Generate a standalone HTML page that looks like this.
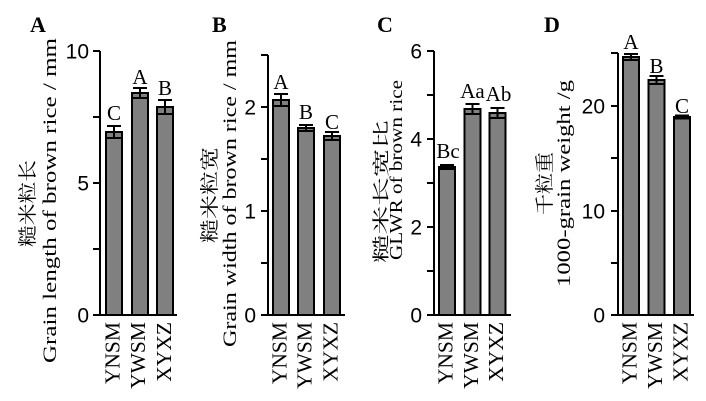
<!DOCTYPE html>
<html><head><meta charset="utf-8"><style>
html,body{margin:0;padding:0;background:#fff;}
svg{display:block;}
.t{font-family:"Liberation Serif",serif;fill:#000;}
.c{font-family:"Liberation Serif","Noto Serif CJK SC",serif;fill:#000;}
.n{font-family:"Liberation Sans",sans-serif;font-size:21px;fill:#000;text-anchor:end;}
.p{font-family:"Liberation Serif",serif;font-weight:bold;font-size:22px;fill:#000;}
.s{font-family:"Liberation Serif",serif;font-size:21px;fill:#000;text-anchor:middle;}
.x{font-family:"Liberation Serif",serif;font-size:21.5px;fill:#000;text-anchor:end;}
.bar{fill:#808080;stroke:#000;stroke-width:2;}
.ax{stroke:#000;stroke-width:2;fill:none;}
</style></head><body>
<svg width="706" height="401" viewBox="0 0 706 401" xmlns="http://www.w3.org/2000/svg">
<rect width="706" height="401" fill="#fff"/>

<!-- Panel letters -->
<text class="p" x="30" y="32">A</text>
<text class="p" x="212" y="32">B</text>
<text class="p" x="377" y="32">C</text>
<text class="p" x="544" y="32">D</text>

<!-- ===== Panel A ===== -->
<text class="c" font-size="19" text-anchor="middle" transform="translate(34,203.5) rotate(-90)" textLength="87" lengthAdjust="spacingAndGlyphs">糙米粒长</text>
<text class="t" font-size="19" text-anchor="middle" transform="translate(56,200.5) rotate(-90)" textLength="325" lengthAdjust="spacingAndGlyphs">Grain length of brown rice / mm</text>
<path class="ax" d="M100 51 V315 M93 315 H177 M93 51 H100 M93 117 H100 M93 183 H100 M93 249 H100"/>
<text class="n" x="89" y="58.5">10</text>
<text class="n" x="89" y="190.5">5</text>
<text class="n" x="89" y="322.5">0</text>
<rect class="bar" x="106" y="132" width="16" height="183"/>
<rect class="bar" x="132" y="93" width="16" height="222"/>
<rect class="bar" x="157" y="107" width="16" height="208"/>
<path class="ax" d="M114 126 V138 M107 126 H121 M107 138 H121"/>
<path class="ax" d="M140 88 V98 M133 88 H147 M133 98 H147"/>
<path class="ax" d="M165 100 V114 M158 100 H172 M158 114 H172"/>
<text class="s" x="114" y="120">C</text>
<text class="s" x="140" y="84">A</text>
<text class="s" x="165" y="95">B</text>
<text class="x" transform="translate(119.5,322) rotate(-90)">YNSM</text>
<text class="x" transform="translate(145,322) rotate(-90)">YWSM</text>
<text class="x" transform="translate(171,322) rotate(-90)">XYXZ</text>

<!-- ===== Panel B ===== -->
<text class="c" font-size="19" text-anchor="middle" transform="translate(216,195) rotate(-90)" textLength="96" lengthAdjust="spacingAndGlyphs">糙米粒宽</text>
<text class="t" font-size="19" text-anchor="middle" transform="translate(236,193.5) rotate(-90)" textLength="307" lengthAdjust="spacingAndGlyphs">Grain width of brown rice / mm</text>
<path class="ax" d="M268 55 V315 M261 315 H345 M261 55 H268 M261 107 H268 M261 159 H268 M261 211 H268 M261 263 H268"/>
<text class="n" x="256" y="114.5">2</text>
<text class="n" x="256" y="218.5">1</text>
<text class="n" x="256" y="322.5">0</text>
<rect class="bar" x="273" y="100" width="16" height="215"/>
<rect class="bar" x="298" y="128" width="16" height="187"/>
<rect class="bar" x="324" y="136" width="16" height="179"/>
<path class="ax" d="M281 94 V106 M274 94 H288 M274 106 H288"/>
<path class="ax" d="M306 125 V131 M299 125 H313 M299 131 H313"/>
<path class="ax" d="M332 132 V140 M325 132 H339 M325 140 H339"/>
<text class="s" x="281" y="89">A</text>
<text class="s" x="306" y="119">B</text>
<text class="s" x="332" y="129">C</text>
<text class="x" transform="translate(286.5,322) rotate(-90)">YNSM</text>
<text class="x" transform="translate(311.5,322) rotate(-90)">YWSM</text>
<text class="x" transform="translate(337.5,322) rotate(-90)">XYXZ</text>

<!-- ===== Panel C ===== -->
<text class="c" font-size="17" text-anchor="middle" transform="translate(387,191.5) rotate(-90)" textLength="143" lengthAdjust="spacingAndGlyphs">糙米长宽比</text>
<text class="t" font-size="18" text-anchor="middle" transform="translate(402,170) rotate(-90)" textLength="180" lengthAdjust="spacingAndGlyphs">GLWR of brown rice</text>
<path class="ax" d="M434 51 V315 M427 315 H511 M427 51 H434 M427 95 H434 M427 139 H434 M427 183 H434 M427 227 H434 M427 271 H434"/>
<text class="n" x="422" y="58.5">6</text>
<text class="n" x="422" y="146.5">4</text>
<text class="n" x="422" y="234.5">2</text>
<text class="n" x="422" y="322.5">0</text>
<rect class="bar" x="439" y="167" width="16" height="148"/>
<rect class="bar" x="464.5" y="109" width="16" height="206"/>
<rect class="bar" x="489.5" y="113" width="16" height="202"/>
<path class="ax" d="M447 165 V169 M440 165 H454 M440 169 H454"/>
<path class="ax" d="M472.5 104 V114 M465.5 104 H479.5 M465.5 114 H479.5"/>
<path class="ax" d="M497.5 108 V118 M490.5 108 H504.5 M490.5 118 H504.5"/>
<text class="s" x="448" y="158">Bc</text>
<text class="s" x="472.5" y="98">Aa</text>
<text class="s" x="498.5" y="101">Ab</text>
<text class="x" transform="translate(452.5,322) rotate(-90)">YNSM</text>
<text class="x" transform="translate(478,322) rotate(-90)">YWSM</text>
<text class="x" transform="translate(503,322) rotate(-90)">XYXZ</text>

<!-- ===== Panel D ===== -->
<text class="c" font-size="19" text-anchor="middle" transform="translate(551,183.5) rotate(-90)" textLength="63" lengthAdjust="spacingAndGlyphs">千粒重</text>
<text class="t" font-size="19" text-anchor="middle" transform="translate(570,183.5) rotate(-90)" textLength="207" lengthAdjust="spacingAndGlyphs">1000-grain weight /g</text>
<path class="ax" d="M618 53 V315 M611 315 H694 M611 53 H618 M611 106 H618 M611 158 H618 M611 211 H618 M611 263 H618"/>
<text class="n" x="605" y="113.5">20</text>
<text class="n" x="605" y="218.5">10</text>
<text class="n" x="605" y="322.5">0</text>
<rect class="bar" x="623" y="57" width="16" height="258"/>
<rect class="bar" x="648.5" y="80" width="16" height="235"/>
<rect class="bar" x="674" y="117" width="16" height="198"/>
<path class="ax" d="M631 54 V60 M624 54 H638 M624 60 H638"/>
<path class="ax" d="M656.5 76 V84 M649.5 76 H663.5 M649.5 84 H663.5"/>
<path class="ax" d="M682 115.5 V118.5 M675 115.5 H689 M675 118.5 H689"/>
<text class="s" x="631" y="49">A</text>
<text class="s" x="656.5" y="73">B</text>
<text class="s" x="682" y="113">C</text>
<text class="x" transform="translate(636.5,322) rotate(-90)">YNSM</text>
<text class="x" transform="translate(662,322) rotate(-90)">YWSM</text>
<text class="x" transform="translate(687.5,322) rotate(-90)">XYXZ</text>
</svg>
</body></html>
